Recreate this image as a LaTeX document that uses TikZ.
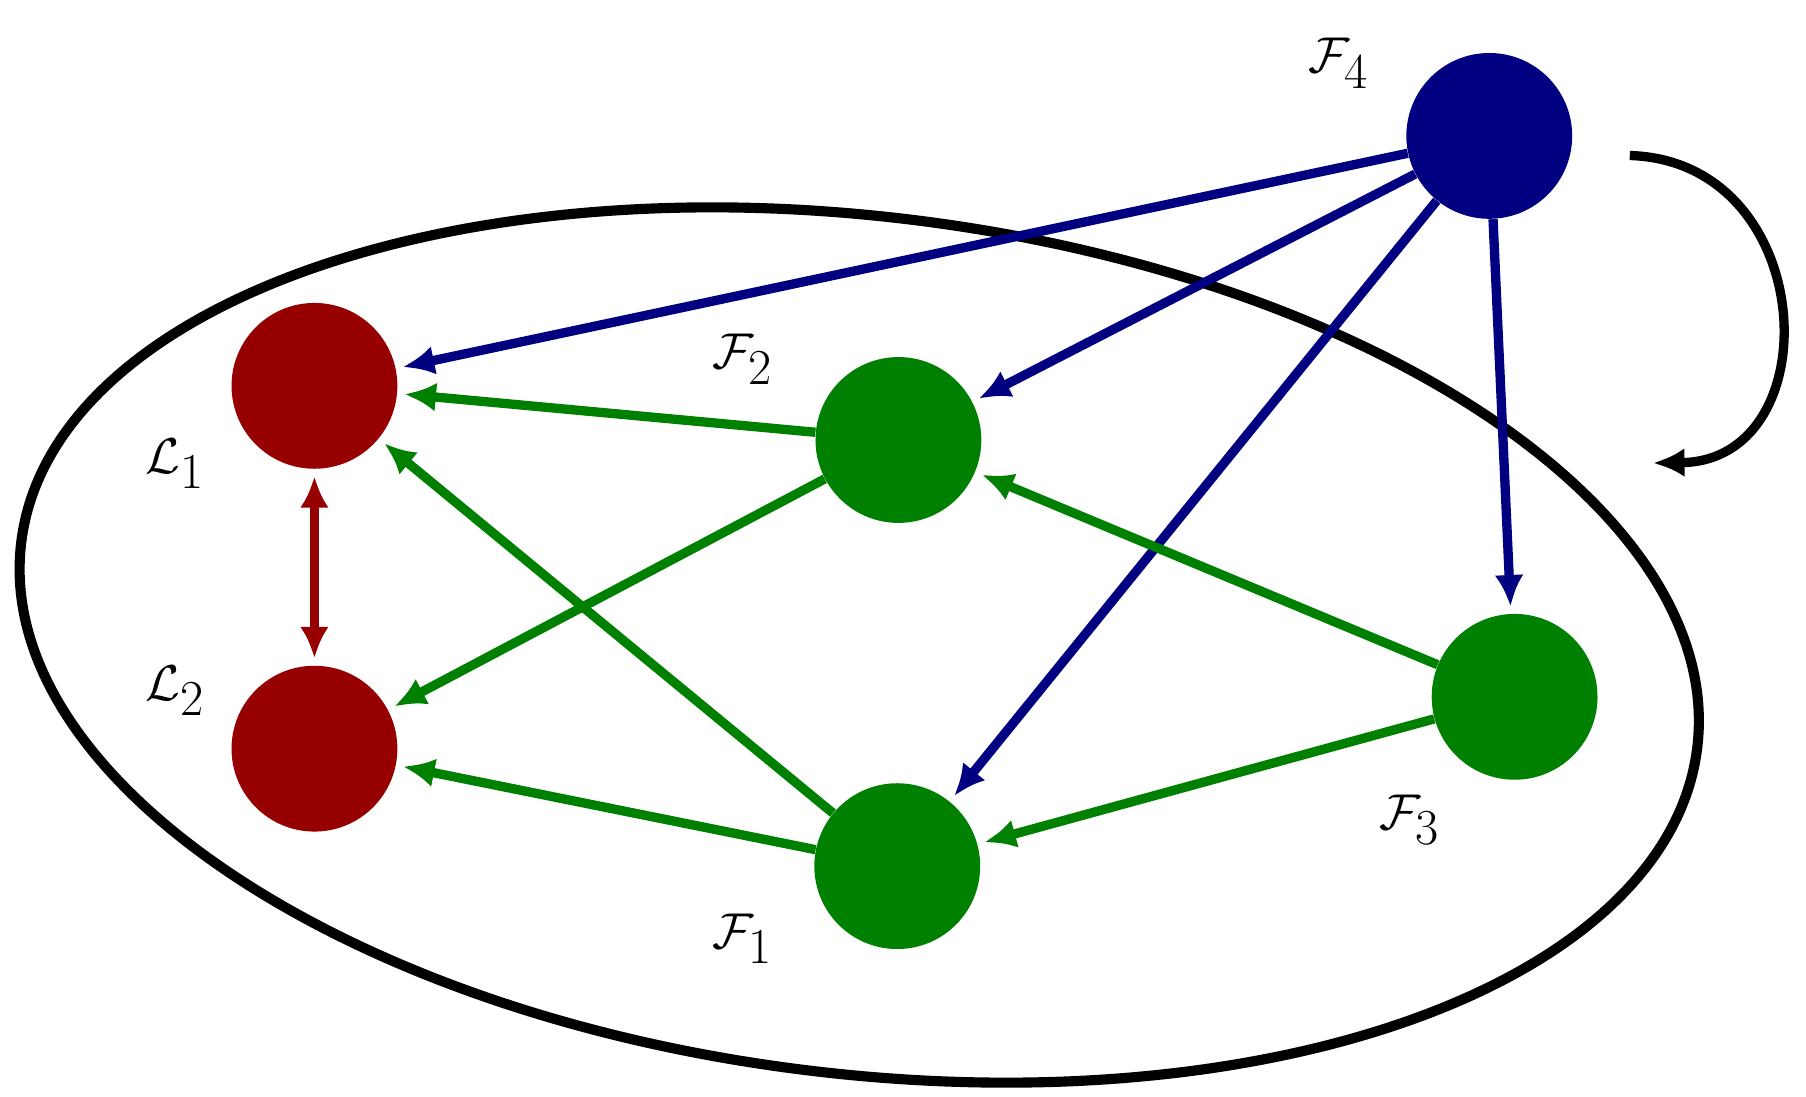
\documentclass[tikz,border=0pt]{standalone}
\usetikzlibrary{arrows.meta}
\definecolor{dred}{RGB}{150,0,0}
\definecolor{dgreen}{RGB}{0,128,0}
\definecolor{dblue}{RGB}{0,0,128}
\begin{document}
\begin{tikzpicture}[x=0.02cm,y=-0.02cm,
  nd/.style={circle,minimum size=2.88cm,inner sep=0pt},
  e/.style={line width=4.6pt,-{Latex[length=0.55cm,width=0.5cm]},shorten >=0.12cm},
  lab/.style={font=\fontsize{50}{60}\selectfont}]
\useasboundingbox (0,0) rectangle (1568,952);
\draw[line width=5pt,rotate around={-7:(746,560)}] (746,560) ellipse (733 and 372);
\node[nd,fill=dred] (L1) at (273,335) {};
\node[nd,fill=dred] (L2) at (273,650) {};
\node[nd,fill=dgreen] (F2) at (780,382) {};
\node[nd,fill=dgreen] (F1) at (779,752) {};
\node[nd,fill=dgreen] (F3) at (1315,605) {};
\node[nd,fill=dblue] (F4) at (1293,118) {};
\node[lab] at (1162,55) {$\mathcal{F}_4$};
\node[lab] at (645,312) {$\mathcal{F}_2$};
\node[lab] at (152,403) {$\mathcal{L}_1$};
\node[lab] at (152,600) {$\mathcal{L}_2$};
\node[lab] at (1224,712) {$\mathcal{F}_3$};
\node[lab] at (645,815) {$\mathcal{F}_1$};
\draw[e,dblue] (F4) -- (L1);
\draw[e,dblue] (F4) -- (F2);
\draw[e,dblue] (F4) -- (F1);
\draw[e,dblue] (F4) -- (F3);
\draw[e,dgreen] (F2) -- (L1);
\draw[e,dgreen] (F2) -- (L2);
\draw[e,dgreen] (F1) -- (L1);
\draw[e,dgreen] (F1) -- (L2);
\draw[e,dgreen] (F3) -- (F2);
\draw[e,dgreen] (F3) -- (F1);
\draw[e,dred,{Latex[length=0.55cm,width=0.5cm]}-{Latex[length=0.55cm,width=0.5cm]},shorten <=0.12cm] (L1) -- (L2);
\coordinate (a) at (1415,135);
\coordinate (b) at (1435,402);
\draw[e,black,shorten >=0pt] (a) .. controls (1580,140) and (1590,400) .. (b);
\end{tikzpicture}
\end{document}
